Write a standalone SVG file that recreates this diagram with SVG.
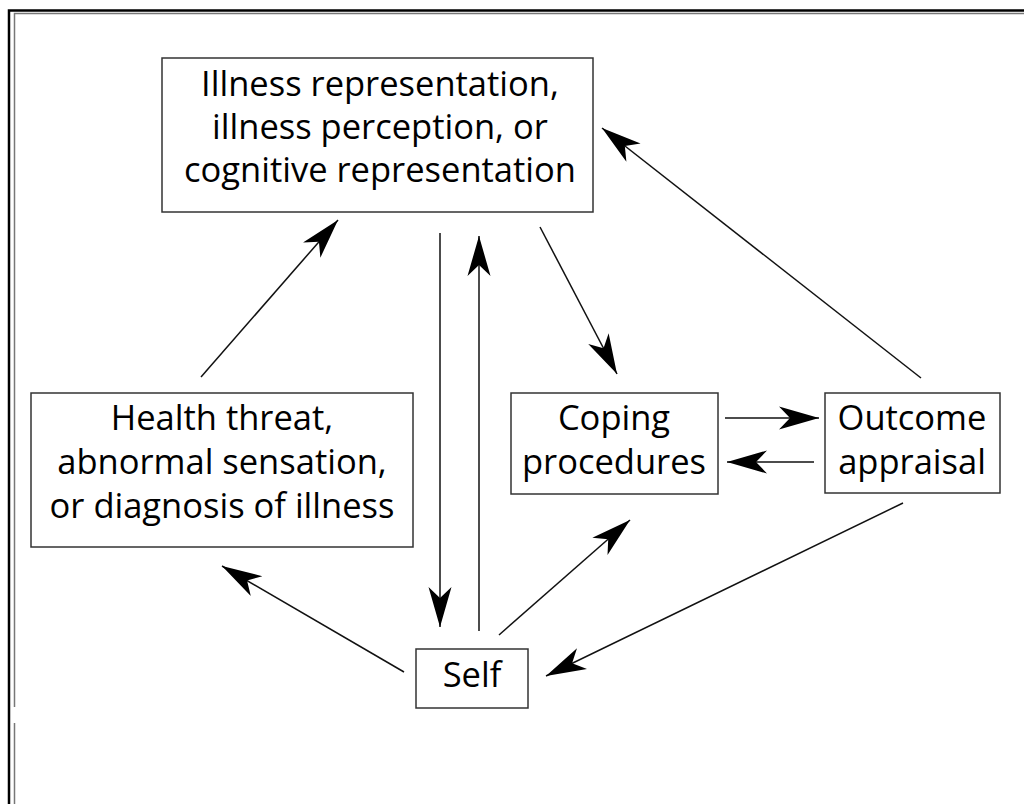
<svg xmlns="http://www.w3.org/2000/svg" width="1024" height="804" viewBox="0 0 1024 804">
  <style>
    .box { fill: #ffffff; stroke: #333333; stroke-width: 1.5; }
    .lbl { font-family: "Open Sans", "Noto Sans", "Liberation Sans", sans-serif; font-size: 34.5px; fill: #000000; text-anchor: middle; }
    .link { stroke: #111111; stroke-width: 1.5; fill: none; marker-end: url(#head); }
  </style>
  <defs>
    <!-- long notched arrowhead -->
    <marker id="head" markerUnits="userSpaceOnUse" markerWidth="46" markerHeight="30" viewBox="-42 -15 46 30" refX="0" refY="0" orient="auto">
      <path d="M0,0 L-40,-11.5 L-29,0 L-40,11.5 Z" fill="#000000"/>
    </marker>
  </defs>

  <rect x="0" y="0" width="1024" height="804" fill="#ffffff"/>

  <!-- double frame: outer black rule, inner grey rule -->
  <g id="frame">
    <path d="M9,804 V10.5 H1024" fill="none" stroke="#000000" stroke-width="2.5"/>
    <path d="M14.5,707 V13.5 H1024" fill="none" stroke="#777777" stroke-width="1.5"/>
    <path d="M14.5,723 V804" fill="none" stroke="#777777" stroke-width="1.5"/>
  </g>

  <g id="connectors">
    <!-- health threat -> representation -->
    <line class="link" x1="201" y1="377" x2="338" y2="220"/>
    <!-- representation -> self -->
    <line class="link" x1="440" y1="233" x2="440" y2="627"/>
    <!-- self -> representation -->
    <line class="link" x1="479" y1="631" x2="479" y2="236"/>
    <!-- representation -> coping -->
    <line class="link" x1="540" y1="227" x2="617" y2="374"/>
    <!-- outcome -> representation -->
    <line class="link" x1="921" y1="378" x2="602" y2="128"/>
    <!-- coping -> outcome -->
    <line class="link" x1="725" y1="418" x2="819" y2="418"/>
    <!-- outcome -> coping -->
    <line class="link" x1="814" y1="462" x2="727" y2="462"/>
    <!-- self -> coping -->
    <line class="link" x1="499" y1="635" x2="630" y2="520"/>
    <!-- outcome -> self -->
    <line class="link" x1="903" y1="503" x2="546" y2="676"/>
    <!-- self -> health threat -->
    <line class="link" x1="404" y1="672" x2="222" y2="566"/>
  </g>

  <g id="representation">
    <rect class="box" x="162" y="58" width="431" height="154"/>
    <text class="lbl" x="380" y="96">Illness representation,</text>
    <text class="lbl" x="380" y="139">illness perception, or</text>
    <text class="lbl" x="380" y="182">cognitive representation</text>
  </g>

  <g id="health-threat">
    <rect class="box" x="31" y="393" width="382" height="154"/>
    <text class="lbl" x="222" y="430">Health threat,</text>
    <text class="lbl" x="222" y="474">abnormal sensation,</text>
    <text class="lbl" x="222" y="518">or diagnosis of illness</text>
  </g>

  <g id="coping">
    <rect class="box" x="511" y="393" width="207" height="101"/>
    <text class="lbl" x="614" y="430">Coping</text>
    <text class="lbl" x="614" y="474">procedures</text>
  </g>

  <g id="outcome">
    <rect class="box" x="825" y="393" width="175" height="100"/>
    <text class="lbl" x="912" y="430">Outcome</text>
    <text class="lbl" x="912" y="474">appraisal</text>
  </g>

  <g id="self">
    <rect class="box" x="416" y="649" width="112" height="59"/>
    <text class="lbl" x="472" y="687">Self</text>
  </g>
</svg>
